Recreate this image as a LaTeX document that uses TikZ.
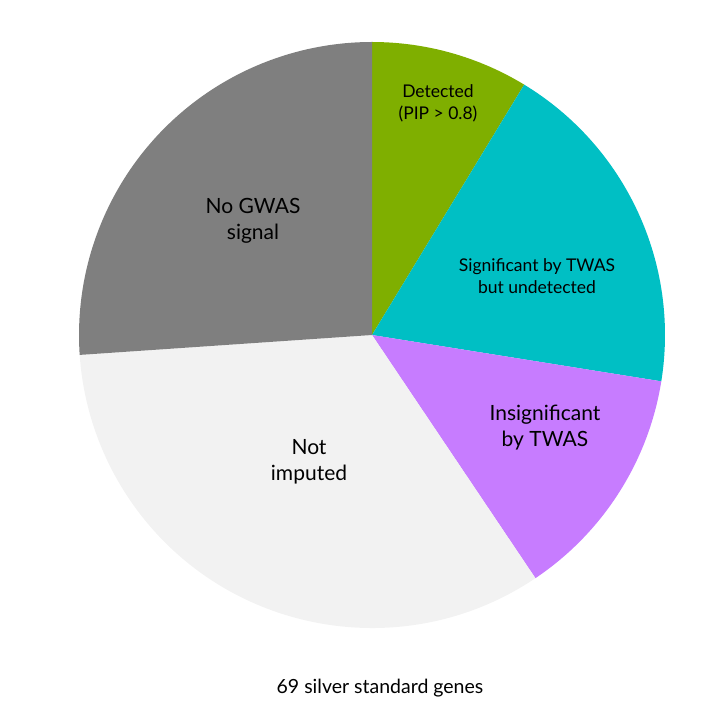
\documentclass[tikz,border=0pt]{standalone}
\usepackage{fontspec}
\setmainfont{Lato}
\definecolor{detgreen}{HTML}{7FAF00}
\definecolor{sigteal}{HTML}{00BFC4}
\definecolor{insigpurple}{HTML}{C77CFF}
\definecolor{notgrey}{HTML}{F2F2F2}
\definecolor{nogwas}{HTML}{7F7F7F}
\begin{document}
\begin{tikzpicture}
	[x=1pt,y=1pt,
	mylabel/.style={align=center,font=\fontsize{21}{26}\selectfont},
	mysmall/.style={align=center,font=\fontsize{17.5}{22}\selectfont}]
	\useasboundingbox (0,0) rectangle (713,721);
	\coordinate (c) at (372,386);
	% slices: start angle / end angle / colour
	\foreach \a/\b/\col in {90/58.7/detgreen, 58.7/-9.1/sigteal, -9.1/-56.1/insigpurple, -56.1/-176.1/notgrey, -176.1/-270/nogwas}
	{
		\fill[\col] (c) -- ++(\a:293) arc[start angle=\a,end angle=\b,radius=293] -- cycle;
	}
	\node[mysmall,name=det] at (438,618) {Detected\\(PIP > 0.8)};
	\node[mysmall,name=sig] at (537,445) {Significant by TWAS\\but undetected};
	\node[mylabel,name=insig] at (545,293) {Insignificant\\by TWAS};
	\node[mylabel,name=notimp] at (309,259) {Not\\imputed};
	\node[mylabel,name=nogw] at (253,500) {No GWAS\\signal};
	\node[mysmall,name=cap,font=\fontsize{19.5}{24}\selectfont] at (380,33) {69 silver standard genes};
\end{tikzpicture}
\end{document}
